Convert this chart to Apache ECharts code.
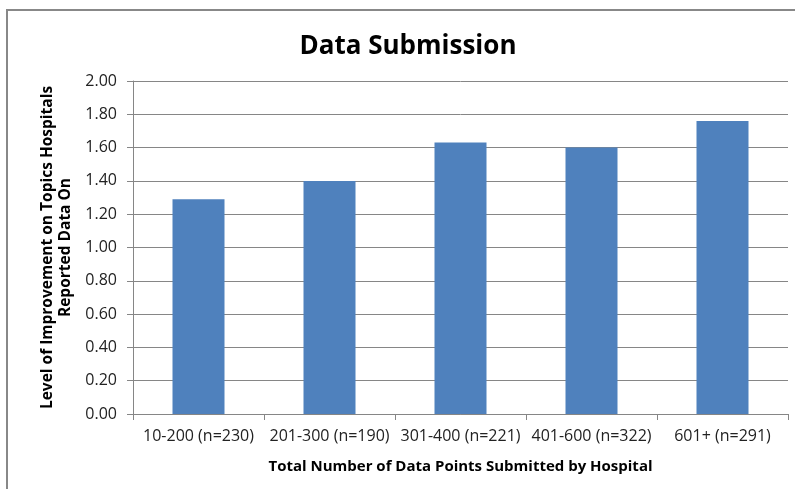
<!DOCTYPE html>
<html>
<head>
<meta charset="utf-8">
<script src="https://cdn.jsdelivr.net/npm/echarts@6/dist/echarts.min.js"></script>
<style>
html,body{margin:0;padding:0;background:#fff;}
#chart{width:795px;height:489px;}
</style>
</head>
<body>
<div id="chart"></div>
<script>
var categories = ['10-200 (n=230)', '201-300 (n=190)', '301-400 (n=221)', '401-600 (n=322)', '601+ (n=291)'];
var values = [1.29, 1.40, 1.63, 1.60, 1.76];
var yTicks = { min: 0, max: 2, interval: 0.2 };

var FONT = '"Open Sans", "Noto Sans", sans-serif';
var chart = echarts.init(document.getElementById('chart'), null, { renderer: 'canvas' });
chart.setOption({
  animation: false,
  backgroundColor: '#fff',
  title: {
    text: 'Data Submission',
    left: 403, top: 29, textAlign: 'center',
    textStyle: { fontFamily: FONT, fontSize: 26, fontWeight: 'bold', color: '#000' }
  },
  grid: { left: 133, right: 7, top: 81, bottom: 75, containLabel: false },
  xAxis: {
    type: 'category',
    data: categories,
    name: 'Total Number of Data Points Submitted by Hospital',
    nameLocation: 'middle',
    nameGap: 45,
    nameTextStyle: { fontFamily: FONT, fontSize: 15, fontWeight: 'bold', color: '#000' },
    axisLine: { lineStyle: { color: '#868686', width: 1 } },
    axisTick: { show: true, alignWithLabel: false, length: 6, lineStyle: { color: '#868686' } },
    axisLabel: { fontFamily: FONT, fontSize: 16, color: '#222', margin: 14, interval: 0 }
  },
  yAxis: {
    type: 'value',
    min: yTicks.min, max: yTicks.max, interval: yTicks.interval,
    name: 'Level of Improvement on Topics Hospitals\nReported Data On',
    nameLocation: 'middle',
    nameGap: 57,
    nameRotate: 90,
    nameTextStyle: { fontFamily: FONT, fontSize: 15.5, fontWeight: 'bold', color: '#000', lineHeight: 18 },
    axisLine: { show: true, lineStyle: { color: '#868686', width: 1 } },
    axisTick: { show: true, inside: false, length: 6, lineStyle: { color: '#868686' } },
    axisLabel: { fontFamily: FONT, fontSize: 16, color: '#222', margin: 16,
      formatter: function (v) { return v.toFixed(2); } },
    splitLine: { lineStyle: { color: '#868686', width: 1 } }
  },
  series: [{
    type: 'bar',
    data: values,
    barWidth: 52,
    itemStyle: { color: '#4F81BD' }
  }],
  graphic: [{
    type: 'rect',
    shape: { x: 7, y: 10, width: 800, height: 500 },
    style: { fill: 'none', stroke: '#888', lineWidth: 2 },
    silent: true
  }]
});
</script>
</body>
</html>
